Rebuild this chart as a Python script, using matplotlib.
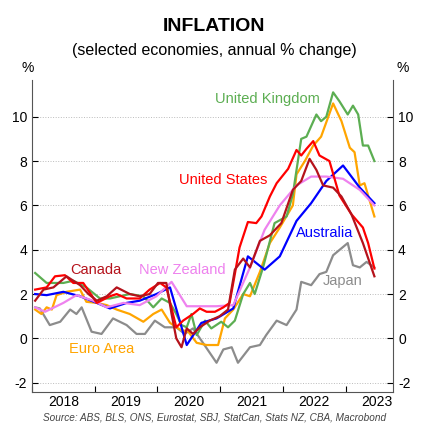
import numpy as np
import matplotlib.pyplot as plt

plt.rcParams['font.family'] = ['Liberation Sans', 'DejaVu Sans']
plt.rcParams['axes.unicode_minus'] = False

# months since Jan 2018, annual % change
uk_m = [0.6, 2.8, 6.0, 7.9, 10.4, 13.0, 14.9, 18.7, 21.3, 23.2, 24.8, 26.4, 27.6, 28.6, 29.6, 30.5,
        31.5, 33.1, 34.3, 36.2, 37.5, 38.8, 40.4, 41.7, 42.6, 44.2, 46.4, 48.7, 49.9, 51.5, 52.5,
        54.4, 55.3, 56.3, 57.6, 58.8, 60.4, 61.4, 62.4, 63.3, 64.3, 65.5]
uk_v = [2.95, 2.5, 2.5, 2.6, 2.3, 1.8, 1.8, 2.0, 1.9, 1.4, 1.8, 1.6, 1.1, 0.6, 0.5, 1.1,
        0.15, 0.8, 0.45, 0.75, 0.5, 0.8, 2.0, 2.5, 2.0, 3.2, 5.2, 5.5, 6.5, 9.0, 9.1,
        10.1, 9.8, 10.0, 11.1, 10.7, 10.1, 10.5, 10.1, 8.7, 8.7, 8.0]

us_m = [0.6, 2.8, 4.4, 6.3, 7.9, 9.8, 12.4, 14.9, 16.2, 18.1, 20.6, 22.5, 24.5, 25.7, 27.6, 28.9,
        30.8, 32.1, 33.4, 35.0, 36.6, 37.8, 38.8, 39.7, 41.3, 42.9, 43.9, 45.5, 46.8, 49.0, 50.6,
        51.5, 52.5, 53.8, 55.0, 56.9, 58.8, 61.1, 63.3, 64.3, 65.5]
us_v = [2.2, 2.3, 2.8, 2.85, 2.5, 2.5, 1.6, 1.9, 2.0, 1.8, 1.8, 2.2, 2.5, 2.3, 0.5, 0.8,
        1.1, 1.35, 1.2, 1.2, 1.4, 1.6, 2.9, 4.1, 5.25, 5.2, 5.5, 6.4, 7.0, 7.65, 8.5,
        8.25, 8.55, 8.9, 8.25, 8.0, 6.45, 5.6, 5.0, 4.3, 3.15]

ca_m = [0.6, 2.2, 4.1, 6.6, 9.2, 10.8, 12.4, 14.3, 16.2, 18.7, 20.6, 22.5, 24.1, 25.7, 26.7, 27.6,
        28.6, 29.6, 30.8, 32.1, 34.0, 35.9, 37.5, 38.8, 40.4, 41.7, 43.6, 45.5, 47.7, 49.9, 51.5,
        53.1, 54.4, 55.7, 57.6, 59.2, 61.1, 63.3, 65.5]
ca_v = [1.7, 2.2, 2.3, 2.8, 2.4, 2.0, 1.7, 1.9, 2.3, 2.0, 1.9, 2.0, 2.5, 2.5, 1.1, 0.0,
        -0.4, 0.45, 0.2, 0.5, 0.8, 1.0, 1.3, 3.1, 3.6, 3.2, 4.4, 4.65, 5.2, 6.7, 7.1,
        8.1, 7.6, 6.9, 6.8, 6.4, 5.6, 4.3, 2.8]

au_m = [0.6, 2.8, 6.0, 9.2, 12.4, 14.9, 18.1, 20.6, 23.8, 26.4, 29.6, 32.4, 35.3, 38.5, 41.3,
        44.5, 47.4, 50.6, 53.4, 56.3, 59.5, 62.7, 65.5]
au_v = [2.0, 1.95, 2.1, 1.9, 1.6, 1.35, 1.6, 1.7, 2.0, 2.3, -0.3, 0.7, 0.9, 1.35, 3.7,
        3.1, 3.7, 5.3, 6.1, 7.1, 7.8, 6.8, 6.1]

nz_m = [0.6, 2.5, 6.0, 8.5, 11.7, 14.3, 17.5, 20.6, 23.8, 26.7, 29.6, 32.7, 35.3, 38.5, 41.7,
        44.5, 47.4, 50.6, 53.4, 56.3, 59.5, 62.7, 65.5]
nz_v = [1.4, 1.2, 1.6, 1.95, 1.7, 1.4, 1.6, 1.5, 1.9, 2.55, 1.45, 1.45, 1.45, 1.5, 3.2,
        4.9, 6.0, 6.9, 7.3, 7.3, 7.2, 6.7, 6.0]

ea_m = [0.6, 1.8, 2.8, 3.8, 4.7, 6.6, 9.2, 10.4, 12.4, 14.3, 16.2, 18.7, 21.3, 23.2, 24.8, 26.4,
        28.3, 29.9, 31.5, 33.4, 35.6, 36.9, 38.5, 40.4, 41.7, 43.6, 45.5, 47.4, 49.9, 50.6, 52.2,
        53.8, 55.3, 57.6, 59.2, 60.8, 61.7, 62.7, 63.6, 65.5]
ea_v = [1.3, 1.1, 1.4, 1.3, 1.95, 2.1, 2.2, 1.65, 1.6, 1.5, 1.3, 1.1, 0.75, 1.1, 1.3, 0.7,
        0.4, 0.3, -0.2, -0.3, -0.3, 0.9, 1.3, 2.0, 1.9, 3.0, 4.3, 5.0, 6.0, 7.4, 8.0,
        8.7, 9.1, 10.6, 9.8, 8.6, 8.4, 6.9, 7.0, 5.5]

jp_m = [0.6, 1.5, 3.4, 5.4, 7.3, 8.5, 9.5, 11.4, 13.3, 15.5, 18.1, 20.0, 21.6, 23.5, 25.4, 27.6,
        29.2, 30.8, 32.7, 35.3, 36.6, 38.2, 39.4, 41.7, 43.6, 44.8, 46.8, 48.7, 50.6, 51.5, 53.4,
        55.0, 56.3, 57.6, 60.4, 61.4, 62.7, 64.0, 65.5]
jp_v = [1.4, 1.35, 0.6, 0.75, 1.3, 1.1, 1.4, 0.3, 0.2, 0.9, 0.6, 0.2, 0.2, 0.8, 0.5, 0.5,
        0.2, 0.45, -0.2, -1.1, -0.5, -0.4, -1.1, -0.4, -0.3, 0.15, 0.8, 0.6, 1.3, 2.55, 2.4,
        2.9, 3.0, 3.75, 4.3, 3.3, 3.2, 3.45, 3.2]

years = ["2018", "2019", "2020", "2021", "2022", "2023"]

series = [
    (jp_m, jp_v, "#8c8c8c", "Japan", 59.5, 2.6),
    (ea_m, ea_v, "#ffa500", "Euro Area", 13.4, -0.5),
    (uk_m, uk_v, "#5cae52", "United Kingdom", 45.0, 10.8),
    (au_m, au_v, "#0000ff", "Australia", 55.9, 4.74),
    (nz_m, nz_v, "#ee82ee", "New Zealand", 28.7, 3.1),
    (us_m, us_v, "#ff0000", "United States", 36.6, 7.13),
    (ca_m, ca_v, "#b5121b", "Canada", 12.2, 3.1),
]

fig = plt.figure(figsize=(4.29, 4.38), dpi=100)
ax = fig.add_axes([0.0746, 0.105, 0.842, 0.712])

for m, v, col, name, lx, ly in series:
    ax.plot(m, v, color=col, lw=1.6)
    ax.text(lx, ly, name, color=col, fontsize=10.5, ha="center", va="center")

ax.set_xlim(0, 69.1)
ax.set_ylim(-2.42, 11.65)
ax.set_yticks(np.arange(-2, 11, 2))
ax.yaxis.grid(True, color="#bbbbbb", ls=":", lw=0.7)
ax.tick_params(axis="y", which="both", left=True, right=True, labelleft=True,
               labelright=True, direction="in", length=4, labelsize=10)
ax.set_xticks(np.arange(0, 61, 12))
ax.set_xticklabels([])
ax.set_xticks(np.arange(6, 67, 12), minor=True)
ax.set_xticklabels(years, minor=True, fontsize=10)
ax.tick_params(axis="x", which="major", direction="in", length=4)
ax.tick_params(axis="x", which="minor", length=0, pad=2)
ax.spines["top"].set_visible(False)
for s in ["left", "right", "bottom"]:
    ax.spines[s].set_color("#555555")

fig.text(0.05, 0.835, "%", fontsize=10)
fig.text(0.925, 0.835, "%", fontsize=10)
fig.text(0.5, 0.93, "INFLATION", ha="center", fontsize=14, fontweight="bold")
fig.text(0.5, 0.875, "(selected economies, annual % change)", ha="center", fontsize=11.5)
fig.text(0.5, 0.046, "Source: ABS, BLS, ONS, Eurostat, SBJ, StatCan, Stats NZ, CBA, Macrobond",
         ha="center", va="center", fontsize=7.2, style="italic", color="#444444")

fig.savefig("out.png", dpi=100)
